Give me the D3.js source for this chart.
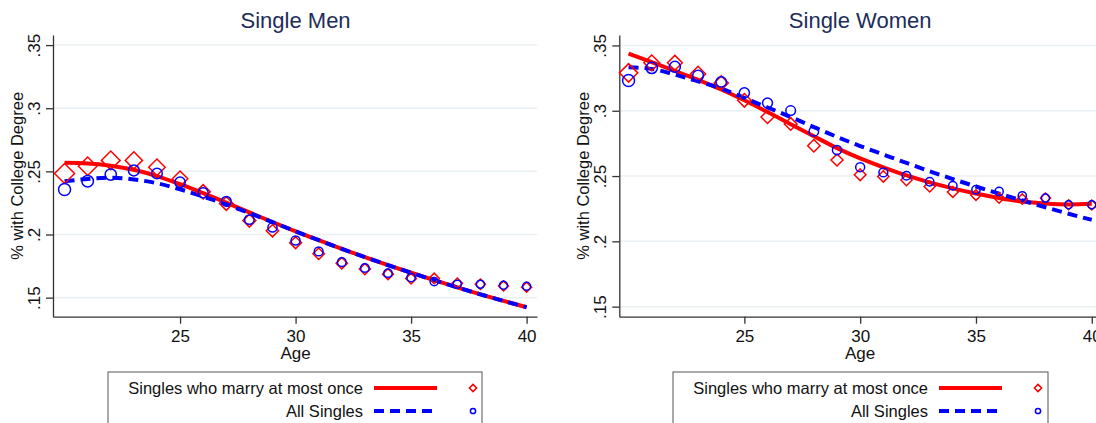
<!DOCTYPE html>
<html>
<head>
<meta charset="utf-8">
<script src="https://cdn.jsdelivr.net/npm/d3@7"></script>
<style>
  html, body { margin: 0; padding: 0; background: #fff; }
  svg { display: block; font-family: "Liberation Sans", Arial, Helvetica, sans-serif; }
</style>
</head>
<body>
<svg id="chart" width="1096" height="423"></svg>
<script>
// ---------- DATA ----------
const ages = [20,21,22,23,24,25,26,27,28,29,30,31,32,33,34,35,36,37,38,39,40];
const xTicks = [25,30,35,40];
const yTicks = [0.15,0.20,0.25,0.30,0.35];
const panelTitles = ["Single Men", "Single Women"];
const seriesNames = ["Singles who marry at most once", "All Singles"];

// Single Men
const menOnceFit = [0.2568,0.2563,0.2545,0.2513,0.2463,0.2398,0.2327,0.2252,0.2175,0.2099,0.2025,0.1955,0.1887,0.1821,0.1758,0.1697,0.1638,0.1581,0.1526,0.1474,0.1424];
const menAllFit  = [0.2422,0.2440,0.2450,0.2436,0.2406,0.2358,0.2300,0.2238,0.2170,0.2098,0.2025,0.1955,0.1887,0.1821,0.1758,0.1697,0.1638,0.1581,0.1526,0.1474,0.1424];
const menOncePts = [0.2483,0.2541,0.2587,0.2587,0.2533,0.2441,0.2338,0.2245,0.2110,0.2030,0.1935,0.1847,0.1773,0.1726,0.1686,0.1651,0.1652,0.1614,0.1606,0.1593,0.1583];
const menAllPts  = [0.2356,0.2422,0.2475,0.2507,0.2483,0.2414,0.2330,0.2263,0.2118,0.2056,0.1953,0.1866,0.1781,0.1734,0.1694,0.1659,0.1627,0.1606,0.1606,0.1598,0.1590];
// relative cell counts (marker weights)
const menOnceN = [100,85,88,74,68,60,52,46,42,38,35,33,32,31,30,29,28,27,26,25,25];
const menAllN  = [100,92,88,82,78,74,70,66,62,58,56,54,52,50,49,48,47,46,45,44,44];

// Single Women
const womenOnceFit = [0.3438,0.3372,0.3305,0.3237,0.3163,0.3080,0.2990,0.2897,0.2805,0.2714,0.2635,0.2567,0.2505,0.2452,0.2406,0.2366,0.2332,0.2305,0.2290,0.2283,0.2287];
const womenAllFit  = [0.3333,0.3320,0.3277,0.3225,0.3170,0.3098,0.3025,0.2952,0.2875,0.2800,0.2730,0.2665,0.2600,0.2537,0.2477,0.2420,0.2365,0.2313,0.2261,0.2211,0.2165];
const womenOncePts = [0.3290,0.3367,0.3367,0.3282,0.3213,0.3080,0.2952,0.2899,0.2732,0.2623,0.2510,0.2497,0.2469,0.2420,0.2378,0.2354,0.2331,0.2324,0.2331,0.2280,0.2278];
const womenAllPts  = [0.3231,0.3328,0.3336,0.3269,0.3221,0.3137,0.3060,0.3001,0.2842,0.2699,0.2568,0.2528,0.2502,0.2456,0.2426,0.2395,0.2382,0.2349,0.2331,0.2280,0.2280];
const womenOnceN = [85,62,55,58,50,46,42,40,38,36,34,32,31,30,29,28,27,26,26,25,25];
const womenAllN  = [100,88,84,80,76,72,68,65,62,58,56,54,52,50,49,48,47,46,45,44,44];

// ---------- DRAW ----------
const svg = d3.select("#chart");
const RED = "#ff0000", BLUE = "#0000ff";
const FONT = '"Liberation Sans", Arial, Helvetica, sans-serif';

function fmtTick(d) {
  return d3.format(".2f")(d).replace(/^0/, "").replace(/0$/, "");
}

const panels = [
  { title: panelTitles[0], xDom: [19.5, 40.45], xR: [53, 537], yDom: [0.1349, 0.358],
    onceFit: menOnceFit, allFit: menAllFit, oncePts: menOncePts, allPts: menAllPts, onceN: menOnceN, allN: menAllN,
    legend: [108, 482] },
  { title: panelTitles[1], xDom: [19.6, 40.45], xR: [619.3, 1102.2], yDom: [0.1423, 0.358],
    onceFit: womenOnceFit, allFit: womenAllFit, oncePts: womenOncePts, allPts: womenAllPts, onceN: womenOnceN, allN: womenAllN,
    legend: [673, 1048] }
];

const yR = [316.7, 35];
const sizeDiamond = d3.scaleSqrt().domain([0, 100]).range([0, 10]);
const sizeCircle = d3.scaleSqrt().domain([0, 100]).range([0, 6]);

panels.forEach(p => {
  const g = svg.append("g");
  const x = d3.scaleLinear().domain(p.xDom).range(p.xR);
  const y = d3.scaleLinear().domain(p.yDom).range(yR);

  // gridlines
  g.append("g").selectAll("line").data(yTicks).join("line")
    .attr("x1", p.xR[0]).attr("x2", p.xR[1])
    .attr("y1", d => y(d)).attr("y2", d => y(d))
    .attr("stroke", "#e9f0f3").attr("stroke-width", 1.5);

  // title
  g.append("text")
    .attr("x", x(30)).attr("y", 28)
    .attr("text-anchor", "middle")
    .attr("fill", "#1c2d5a")
    .style("font-family", FONT).style("font-size", "22px")
    .text(p.title);

  // y axis
  const ya = g.append("g").attr("transform", `translate(${p.xR[0]},0)`)
    .call(d3.axisLeft(y).tickValues(yTicks).tickFormat(fmtTick).tickSize(7).tickSizeOuter(0));
  ya.select(".domain").attr("stroke", "#333").attr("stroke-width", 1.3);
  ya.selectAll(".tick line").attr("stroke", "#333").attr("stroke-width", 1.3);
  ya.selectAll(".tick text")
    .attr("x", null).attr("dy", null)
    .attr("transform", "translate(-13,0) rotate(-90)")
    .attr("text-anchor", "middle")
    .attr("fill", "#111")
    .style("font-family", FONT).style("font-size", "17px");

  // y axis label
  g.append("text")
    .attr("transform", `translate(${p.xR[0] - 30},${(yR[0] + yR[1]) / 2}) rotate(-90)`)
    .attr("text-anchor", "middle")
    .attr("fill", "#111")
    .style("font-family", FONT).style("font-size", "16.5px")
    .text("% with College Degree");

  // x axis
  const xa = g.append("g").attr("transform", `translate(0,${yR[0]})`)
    .call(d3.axisBottom(x).tickValues(xTicks).tickSize(7).tickSizeOuter(0));
  xa.select(".domain").attr("stroke", "#333").attr("stroke-width", 1.3);
  xa.selectAll(".tick line").attr("stroke", "#333").attr("stroke-width", 1.3);
  xa.selectAll(".tick text")
    .attr("y", 13).attr("dy", "0.71em")
    .attr("fill", "#111")
    .style("font-family", FONT).style("font-size", "17px");

  g.append("text")
    .attr("x", x(30)).attr("y", 359)
    .attr("text-anchor", "middle")
    .attr("fill", "#111")
    .style("font-family", FONT).style("font-size", "17px")
    .text("Age");

  const line = d3.line().x((d, i) => x(ages[i])).y(d => y(d)).curve(d3.curveMonotoneX);

  // fitted lines
  g.append("path").datum(p.onceFit).attr("d", line)
    .attr("fill", "none").attr("stroke", RED).attr("stroke-width", 4);
  g.append("path").datum(p.allFit).attr("d", line)
    .attr("fill", "none").attr("stroke", BLUE).attr("stroke-width", 4)
    .attr("stroke-dasharray", "10,6");

  // diamonds
  g.append("g").selectAll("path").data(p.oncePts).join("path")
    .attr("d", (d, i) => {
      const h = sizeDiamond(p.onceN[i]);
      return `M0,${-h}L${h},0L0,${h}L${-h},0Z`;
    })
    .attr("transform", (d, i) => `translate(${x(ages[i])},${y(d)})`)
    .attr("fill", "none").attr("stroke", RED).attr("stroke-width", 1.5);

  // circles
  g.append("g").selectAll("circle").data(p.allPts).join("circle")
    .attr("cx", (d, i) => x(ages[i])).attr("cy", d => y(d))
    .attr("r", (d, i) => sizeCircle(p.allN[i]))
    .attr("fill", "none").attr("stroke", BLUE).attr("stroke-width", 1.5);

  // legend
  const [lx0, lx1] = p.legend;
  const lg = g.append("g");
  lg.append("rect")
    .attr("x", lx0).attr("y", 372).attr("width", lx1 - lx0).attr("height", 80)
    .attr("fill", "#fff").attr("stroke", "#555").attr("stroke-width", 1);
  const rows = [
    { name: seriesNames[0], color: RED, dash: null, y: 388, marker: "diamond" },
    { name: seriesNames[1], color: BLUE, dash: "10,6", y: 411, marker: "circle" }
  ];
  rows.forEach(r => {
    lg.append("text")
      .attr("x", lx0 + 255).attr("y", r.y + 6)
      .attr("text-anchor", "end")
      .attr("fill", "#111")
      .style("font-family", FONT).style("font-size", "16.5px")
      .text(r.name);
    lg.append("line")
      .attr("x1", lx0 + 266).attr("x2", lx0 + 329)
      .attr("y1", r.y).attr("y2", r.y)
      .attr("stroke", r.color).attr("stroke-width", 4)
      .attr("stroke-dasharray", r.dash);
    if (r.marker === "diamond") {
      lg.append("path")
        .attr("d", "M0,-3.6L3.6,0L0,3.6L-3.6,0Z")
        .attr("transform", `translate(${lx0 + 365},${r.y})`)
        .attr("fill", "none").attr("stroke", r.color).attr("stroke-width", 1.5);
    } else {
      lg.append("circle")
        .attr("cx", lx0 + 365).attr("cy", r.y).attr("r", 2.6)
        .attr("fill", "none").attr("stroke", r.color).attr("stroke-width", 1.5);
    }
  });
});
</script>
</body>
</html>
